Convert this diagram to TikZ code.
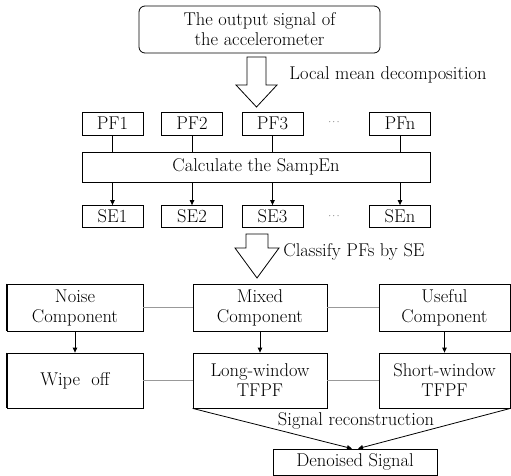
\documentclass[tikz,border=0pt]{standalone}
\usetikzlibrary{arrows.meta}
\begin{document}
\begin{tikzpicture}[x=1pt,y=-1pt,
  font=\fontsize{18.5}{20}\selectfont,
  line width=0.8pt,
  box/.style={draw, inner sep=0pt, align=center, minimum width=#1},
  pfbox/.style={box=61pt, minimum height=23pt},
  sebox/.style={box=61pt, minimum height=22pt},
  comp/.style={box=#1, minimum height=47pt},
  proc/.style={box=#1, minimum height=55pt},
  arr/.style={-{Triangle[length=5pt,width=4.5pt]}},
  link/.style={draw=gray!80, line width=0.8pt},
  hollow/.style={draw, fill=white, line width=0.8pt, line join=miter}]
\useasboundingbox (0,0) rectangle (511,476);

% top
\node[box=241pt, minimum height=47pt, rounded corners=6pt] (src) at (259.5,29.5)
  {The output signal of\\the accelerometer};

% hollow arrow 1
\draw[hollow] (247,57) -- (266,57) -- (266,85) -- (277,85) -- (256.5,107)
  -- (236,85) -- (247,85) -- cycle;
\node[anchor=west, inner sep=0pt] (lmd) at (289,75) {Local mean decomposition};

% PF row
\node[pfbox] (pf1) at (112.5,123.5) {PF1};
\node[pfbox] (pf2) at (192,123.5) {PF2};
\node[pfbox] (pf3) at (272.5,123.5) {PF3};
\node[inner sep=0pt, font=\fontsize{9}{9}\selectfont] (pfd) at (334,122) {$\cdots$};
\node[pfbox] (pfn) at (400,123.5) {PFn};

\node[box=348pt, minimum height=30pt] (calc) at (256,167) {Calculate the SampEn};

\foreach \p in {pf1,pf2,pf3,pfn}
  \draw (\p.south) -- (\p.south |- calc.north);

% SE row
\node[sebox] (se1) at (112.5,216.5) {SE1};
\node[sebox] (se2) at (192,216.5) {SE2};
\node[sebox] (se3) at (272.5,216.5) {SE3};
\node[inner sep=0pt, font=\fontsize{9}{9}\selectfont] (sed) at (334,216) {$\cdots$};
\node[sebox] (sen) at (400,216.5) {SEn};

\foreach \s in {se1,se2,se3,sen}
  \draw[arr] (\s.north |- calc.south) -- (\s.north);

% hollow arrow 2
\draw[hollow] (246,234) -- (268,234) -- (268,248) -- (279,248) -- (257,278)
  -- (235,248) -- (246,248) -- cycle;
\node[anchor=west, inner sep=0pt] (cls) at (283,252) {Classify PFs by SE};

% components
\node[comp=136pt] (noise) at (75,307.5) {Noise\\Component};
\node[comp=134pt] (mixed) at (260,307.5) {Mixed\\Component};
\node[comp=131pt] (useful) at (444.5,307.5) {Useful\\Component};

\node[proc=136pt] (wipe) at (75,380.5) {Wipe\ \ off};
\node[proc=134pt] (long) at (260,380.5) {Long-window\\TFPF};
\node[proc=131pt] (short) at (444.5,380.5) {Short-window\\TFPF};

\draw[line width=1.6pt] (noise.north west) -- (noise.south west);
\draw[line width=1.6pt] (wipe.north west) -- (wipe.south west);

\draw[link] (noise.east) -- (mixed.west);
\draw[link] (mixed.east) -- (useful.west);
\draw[link] (wipe.east) -- (long.west);
\draw[link] (long.east) -- (short.west);

\draw[arr] (noise) -- (wipe);
\draw[arr] (mixed) -- (long);
\draw[arr] (useful) -- (short);

% output
\node[box=164pt, minimum height=26pt] (den) at (355,462) {Denoised Signal};
\node[inner sep=0pt] (rec) at (356,421) {Signal reconstruction};

\draw[arr] (long.south west) -- ([xshift=-3pt]den.north);
\draw[arr] (short.south east) -- ([xshift=3pt]den.north);
\end{tikzpicture}
\end{document}
